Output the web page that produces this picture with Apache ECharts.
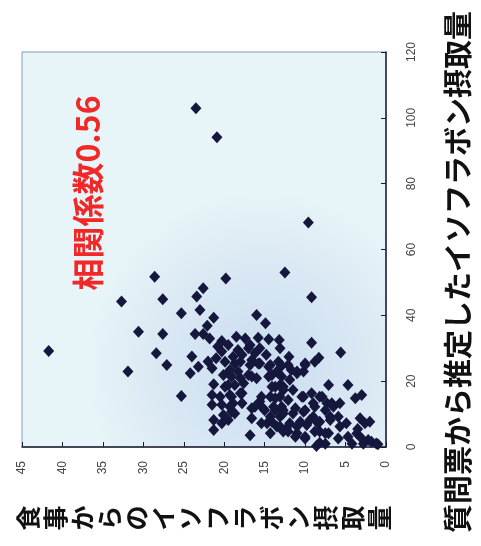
<!DOCTYPE html>
<html>
<head>
<meta charset="utf-8">
<script src="https://cdn.jsdelivr.net/npm/echarts@6/dist/echarts.min.js"></script>
<style>
  html, body { margin: 0; padding: 0; background: #fff; }
  #main { width: 481px; height: 546px; }
</style>
</head>
<body>
<div id="main"></div>
<script>
// 食事からのイソフラボン摂取量 (横軸, 右→左)
const dietIntake = [
  41.7, 23.5, 20.9, 9.6, 12.5, 9.2, 28.6, 19.8, 32.7, 27.6, 22.6, 23.4, 23.0, 25.3, 30.6, 27.6, 28.4, 27.1, 31.9, 25.3, 16.0, 14.9, 9.2, 5.6, 8.3,
  21.3, 22.1, 23.6, 22.6, 21.8, 20.3, 18.5, 17.4, 15.8, 14.5, 13.2, 20.3, 18.3, 16.8, 15.6, 13.1, 18.9, 17.8, 19.9, 18.7, 16.6, 15.6, 14.3, 13.3, 23.2, 21.5, 19.3, 13.5,
  12.0, 10.0, 12.9, 11.7, 10.2,
  24.2, 21.3, 21.5, 21.5, 21.3, 21.3, 20.1, 19.1, 18.0, 16.6, 19.9, 18.7, 17.6, 20.5, 19.3, 17.8, 20.3, 18.9, 17.8, 20.1, 19.1, 20.3, 16.6, 15.6, 16.8,
  14.5, 13.3, 14.1, 13.1, 15.4, 14.3, 13.1, 15.2, 13.9, 12.9, 14.3, 13.1, 14.7, 13.5, 12.7,
  7.1, 4.7, 3.8, 3.0, 11.0, 12.7, 11.5, 10.2, 9.0, 8.2, 7.3, 6.5, 5.7, 6.9, 5.9, 12.7, 11.5, 10.2, 9.0, 8.4, 12.3, 11.0, 9.8,
  3.2, 2.6, 2.0, 8.2, 7.1, 10.0, 8.2, 5.9, 4.7, 3.0, 2.2, 1.8, 5.7, 4.9, 11.2, 3.6, 1.2, 7.5, 8.6,
  18.0, 16.8, 15.8, 14.5, 12.1, 11.0, 10.0, 8.8, 19.5, 18.3, 17.0, 16.0, 14.1, 12.9, 11.9,
  19.5, 18.0, 19.1, 13.7, 12.7, 13.7, 12.1, 10.4, 9.2, 7.9, 19.3, 18.7, 16.2, 15.0, 13.7, 12.7, 11.2, 10.0, 8.8, 7.5, 6.7,
  19.5, 16.6, 15.4, 14.1, 13.1, 11.9, 10.6, 9.4, 8.2, 6.9, 14.3, 12.1, 11.0, 10.0, 8.8, 7.5,
  21.0, 22.0, 20.8, 19.5, 17.0, 16.2, 14.8, 24.0, 4.2, 3.5, 1.0, 2.8
];
// 質問票から推定したイソフラボン摂取量 (縦軸, 下→上)
const questionnaireIntake = [
  29.2, 102.9, 94.1, 68.2, 53.0, 45.5, 51.7, 51.2, 44.2, 44.9, 48.2, 45.7, 41.6, 40.6, 35.0, 34.3, 28.5, 24.9, 22.9, 15.5, 40.1, 37.6, 31.7, 28.7, 27.1,
  39.3, 36.8, 34.3, 34.3, 33.0, 32.2, 33.5, 33.0, 33.2, 32.7, 32.5, 29.0, 29.5, 31.0, 30.0, 30.0, 27.4, 28.0, 25.9, 25.4, 26.4, 25.4, 24.9, 25.9, 24.4, 23.9, 23.4, 22.9,
  27.4, 25.4, 24.7, 23.4, 22.9,
  22.4, 19.1, 15.8, 12.8, 8.2, 5.2, 21.9, 21.4, 20.9, 21.4, 18.3, 18.8, 19.4, 15.3, 15.8, 16.3, 12.8, 13.3, 13.3, 9.7, 10.7, 7.2, 11.8, 13.8, 3.6,
  21.4, 22.4, 18.3, 18.8, 15.3, 15.3, 15.3, 11.8, 12.2, 12.2, 9.2, 9.2, 7.2, 6.2, 4.7,
  18.8, 18.8, 14.8, 15.8, 22.4, 18.3, 17.3, 15.3, 13.3, 15.3, 13.3, 12.2, 13.3, 9.2, 9.2, 11.2, 10.2, 10.7, 9.2, 7.2, 5.7, 6.2, 6.7,
  8.7, 7.2, 7.7, 4.7, 4.2, 2.6, 1.3, 2.6, 3.1, 2.6, 2.1, 1.6, 6.2, 7.2, 3.1, 4.1, 1.1, 1.0, 0.3,
  25.9, 24.9, 25.4, 24.4, 24.9, 22.9, 24.9, 25.9, 22.4, 22.9, 21.9, 20.9, 21.9, 21.4, 20.4,
  18.8, 16.3, 15.3, 18.3, 17.3, 14.8, 14.3, 15.3, 16.3, 15.3, 12.2, 10.2, 12.2, 11.2, 11.2, 10.2, 11.8, 11.2, 12.2, 11.2, 13.3,
  8.2, 8.7, 7.2, 7.7, 6.2, 7.2, 7.7, 8.2, 7.7, 8.2, 4.2, 4.7, 4.2, 3.1, 4.7, 4.2,
  27.0, 26.0, 30.5, 31.0, 30.0, 28.5, 28.0, 27.5, 1.0, 5.5, 0.8, 1.0
];
const dietTicks = { min: 0, max: 45, interval: 5 };
const questionnaireTicks = { min: 0, max: 120, interval: 20 };
const correlationText = '相関係数0.56';
const dietLabel = '食事からのイソフラボン摂取量';
const questionnaireLabel = '質問票から推定したイソフラボン摂取量';

const points = dietIntake.map((d, i) => [d, questionnaireIntake[i]]);

const tickFont = "'Liberation Sans Narrow', 'Liberation Sans', Arial, sans-serif";
const jpFont = "'Noto Sans CJK JP', 'Noto Sans', sans-serif";

const myChart = echarts.init(document.getElementById('main'), null, { renderer: 'canvas' });
myChart.setOption({
  backgroundColor: '#ffffff',
  animation: false,
  grid: {
    left: 22, top: 52, right: 95, bottom: 99,
    show: true,
    borderColor: '#8a9ab6',
    borderWidth: 1,
    backgroundColor: {
      type: 'radial', x: 0.66, y: 0.8, r: 0.5,
      colorStops: [
        { offset: 0, color: '#c9dcf0' },
        { offset: 0.6, color: '#dbe9f4' },
        { offset: 1, color: '#e8f5f8' }
      ]
    }
  },
  xAxis: {
    type: 'value',
    position: 'bottom',
    inverse: true,
    min: dietTicks.min, max: dietTicks.max, interval: dietTicks.interval,
    splitLine: { show: false },
    axisLine: { lineStyle: { color: '#1c1c30', width: 1.5 } },
    axisTick: { inside: true, length: 5, lineStyle: { color: '#1c1c30' } },
    axisLabel: { rotate: 90, margin: 14, color: '#444', fontSize: 12, fontFamily: tickFont }
  },
  yAxis: {
    type: 'value',
    position: 'right',
    min: questionnaireTicks.min, max: questionnaireTicks.max, interval: questionnaireTicks.interval,
    splitLine: { show: false },
    axisLine: { lineStyle: { color: '#1c1c30', width: 1.5 } },
    axisTick: { inside: true, length: 5, lineStyle: { color: '#1c1c30' } },
    axisLabel: { rotate: 90, margin: 20, color: '#444', fontSize: 12, fontFamily: tickFont }
  },
  series: [{
    type: 'scatter',
    symbol: 'diamond',
    symbolSize: [11, 12],
    itemStyle: { color: '#15173d', opacity: 1 },
    data: points
  }],
  graphic: [
    {
      type: 'text', x: 88, y: 193, rotation: Math.PI / 2,
      style: {
        text: correlationText, fill: '#f02828', font: 'bold 32px ' + jpFont,
        textAlign: 'center', textVerticalAlign: 'middle'
      }
    },
    {
      type: 'text', x: 458, y: 272, rotation: Math.PI / 2,
      style: {
        text: questionnaireLabel, fill: '#111', font: 'bold 29px ' + jpFont,
        textAlign: 'center', textVerticalAlign: 'middle'
      }
    },
    {
      type: 'text', x: 204, y: 518, rotation: Math.PI / 2,
      style: {
        text: dietLabel.split('').join('\n'), fill: '#111', font: 'bold 25px ' + jpFont,
        lineHeight: 27, textAlign: 'center', textVerticalAlign: 'middle'
      }
    }
  ]
});
</script>
</body>
</html>
